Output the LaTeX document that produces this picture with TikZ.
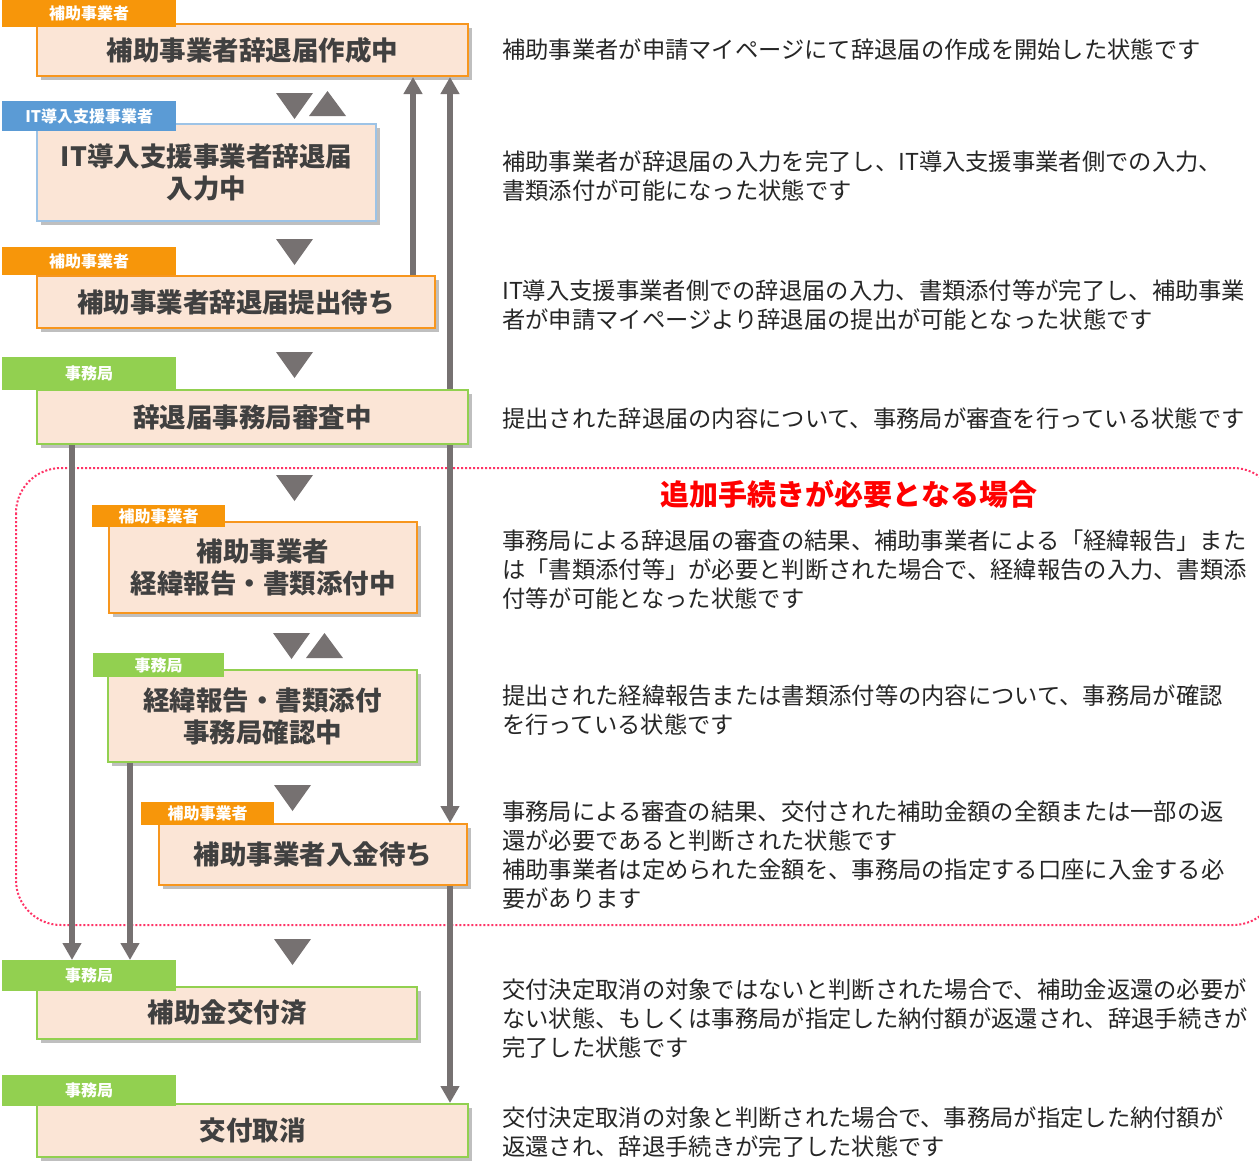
\documentclass[tikz,border=0pt]{standalone}
\usepackage{fontspec}
\setmainfont{Noto Sans CJK JP}
\usepackage{xcolor}
\usetikzlibrary{arrows.meta,shadows}

\definecolor{boxfill}{RGB}{251,229,214}
\definecolor{boxtext}{RGB}{64,64,64}
\definecolor{tagorange}{RGB}{247,150,10}
\definecolor{tagblue}{RGB}{91,155,213}
\definecolor{taggreen}{RGB}{146,208,80}
\definecolor{lineorange}{RGB}{247,150,30}
\definecolor{lineblue}{RGB}{157,195,230}
\definecolor{linegreen}{RGB}{146,208,80}
\definecolor{flowgrey}{RGB}{118,113,113}
\definecolor{framered}{RGB}{255,51,102}

\tikzset{
  box/.style={draw=#1, line width=2pt, fill=boxfill, text=boxtext, align=center,
    font=\bfseries\fontsize{26.5}{32}\selectfont, inner sep=0pt, anchor=north west,
    drop shadow={shadow xshift=4pt, shadow yshift=-4pt, opacity=0.25, fill=black}},
  tag/.style={fill=#1, text=white, font=\bfseries\fontsize{16}{18}\selectfont,
    inner sep=0pt, anchor=north west},
  desc/.style={anchor=west, align=left, inner sep=0pt, text=black!85,
    font=\fontsize{23.3}{29}\selectfont},
  title/.style={text=red, font=\bfseries\fontsize{29}{32}\selectfont, inner sep=0pt},
  flow/.style={draw=flowgrey, line width=6pt, -{Triangle[width=18pt,length=17pt]}},
  tri/.style={fill=flowgrey},
  frame/.style={draw=framered, line width=2pt, dotted, rounded corners=45pt}
}

\begin{document}
\begin{tikzpicture}[x=1pt,y=-1pt]
  \useasboundingbox (0,0) rectangle (1259,1165);

  % Dotted frame of the optional part
  \draw[frame] (16,468) rectangle (1278,925);

  % Draw the status boxes from their corners
  \foreach \n/\xa/\ya/\xb/\yb/\c/\txt in {
      1/36/23/467/75/lineorange/{補助事業者辞退届作成中},
      2/36/123/375/220/lineblue/{IT導入支援事業者辞退届\\入力中},
      3/36/275/434/327/lineorange/{補助事業者辞退届提出待ち},
      4/36/389/467/443/linegreen/{辞退届事務局審査中},
      5/108/521/416/612/lineorange/{補助事業者\\経緯報告・書類添付中},
      6/107/669/416/761/linegreen/{経緯報告・書類添付\\事務局確認中},
      7/158/823/466/884/lineorange/{補助事業者入金待ち},
      8/36/986/416/1038/linegreen/{補助金交付済},
      9/36/1103/467/1156/linegreen/{交付取消}} {
    \pgfmathsetmacro{\w}{\xb-\xa}
    \pgfmathsetmacro{\h}{\yb-\ya}
    \node[box=\c, minimum width=\w pt, minimum height=\h pt] (b\n) at (\xa,\ya) {\txt};
  }

  % Draw the tags on top of the boxes
  \foreach \n/\xa/\ya/\xb/\yb/\c/\who in {
      1/2/0/176/27/tagorange/補助事業者,
      2/2/101/176/131/tagblue/IT導入支援事業者,
      3/2/247/176/275/tagorange/補助事業者,
      4/2/357/176/390/taggreen/事務局,
      5/92/505/225/527/tagorange/補助事業者,
      6/93/653/224/677/taggreen/事務局,
      7/141/802/274/825/tagorange/補助事業者,
      8/2/960/176/991/taggreen/事務局,
      9/2/1075/176/1106/taggreen/事務局} {
    \pgfmathsetmacro{\w}{\xb-\xa}
    \pgfmathsetmacro{\h}{\yb-\ya}
    \node[tag=\c, minimum width=\w pt, minimum height=\h pt] (t\n) at (\xa,\ya) {\who};
  }

  % Down and up triangles between the boxes
  \foreach \x/\y in {276/93, 276/239, 276/352, 276/475, 273/633, 274/785, 274/939} {
    \fill[tri] (\x,\y) -- ++(37,0) -- ++(-18.5,26) -- cycle;
  }
  \foreach \x/\y in {309/91, 306/633} {
    \fill[tri] (\x,\y+25) -- ++(37,0) -- ++(-18.5,-25) -- cycle;
  }

  % Columns of the long arrows
  \coordinate (la) at (72,0);
  \coordinate (lb) at (130,0);
  \coordinate (ra) at (413,0);
  \coordinate (rb) at (450,0);

  \draw[flow] (b3.north -| ra) -- (b1.south -| ra);
  \draw[flow] (b4.north -| rb) -- (b1.south -| rb);
  \draw[flow] (b4.south -| rb) -- (b7.north -| rb);
  \draw[flow] (b7.south -| rb) -- (b9.north -| rb);
  \draw[flow] (b4.south -| la) -- (t8.north -| la);
  \draw[flow] (b6.south -| lb) -- (t8.north -| lb);

  % Descriptions on the right
  \node[title] (hd) at (849,494) {追加手続きが必要となる場合};
  \foreach \n/\y/\txt in {
      1/50/{補助事業者が申請マイページにて辞退届の作成を開始した状態です},
      2/176/{補助事業者が辞退届の入力を完了し、IT導入支援事業者側での入力、\\書類添付が可能になった状態です},
      3/305/{IT導入支援事業者側での辞退届の入力、書類添付等が完了し、補助事業\\者が申請マイページより辞退届の提出が可能となった状態です},
      4/419/{提出された辞退届の内容について、事務局が審査を行っている状態です},
      5/570/{事務局による辞退届の審査の結果、補助事業者による「経緯報告」また\\は「書類添付等」が必要と判断された場合で、経緯報告の入力、書類添\\付等が可能となった状態です},
      6/710/{提出された経緯報告または書類添付等の内容について、事務局が確認\\を行っている状態です},
      7/855/{事務局による審査の結果、交付された補助金額の全額または一部の返\\還が必要であると判断された状態です\\補助事業者は定められた金額を、事務局の指定する口座に入金する必\\要があります},
      8/1019/{交付決定取消の対象ではないと判断された場合で、補助金返還の必要が\\ない状態、もしくは事務局が指定した納付額が返還され、辞退手続きが\\完了した状態です},
      9/1132/{交付決定取消の対象と判断された場合で、事務局が指定した納付額が\\返還され、辞退手続きが完了した状態です}} {
    \node[desc] (d\n) at (502,\y) {\txt};
  }
\end{tikzpicture}
\end{document}
